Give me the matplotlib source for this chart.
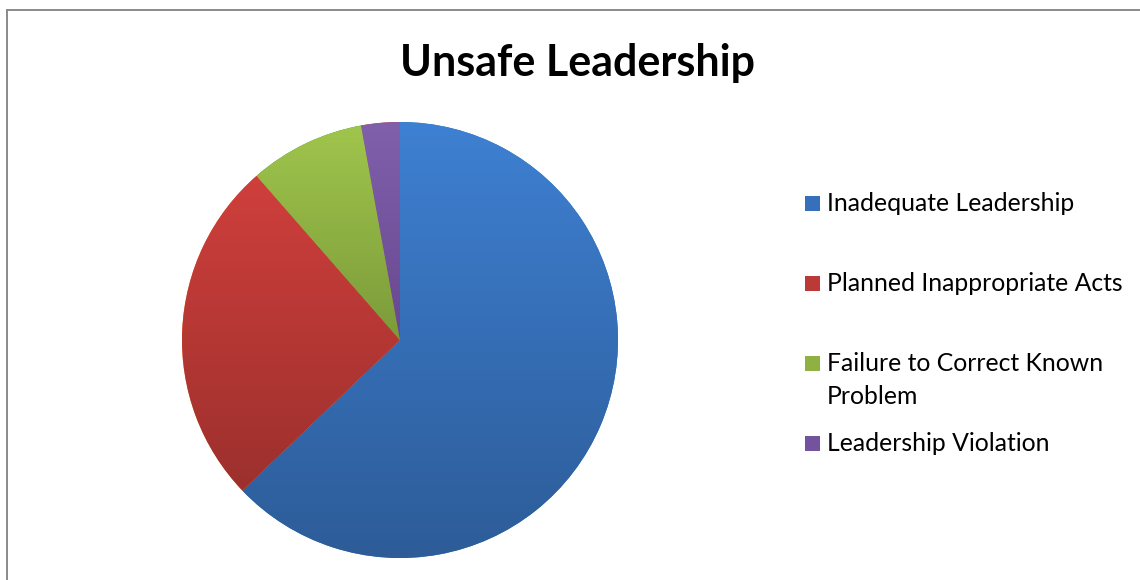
import numpy as np
import matplotlib
matplotlib.use("Agg")
import matplotlib.pyplot as plt
from matplotlib.colors import LinearSegmentedColormap
from matplotlib.patches import Rectangle
from matplotlib.lines import Line2D

title = "Unsafe Leadership"
categories = ["Inadequate Leadership", "Planned Inappropriate Acts",
              "Failure to Correct Known\nProblem", "Leadership Violation"]
values = [44, 18, 6, 2]
top_colors = ["#3e80d2", "#cf3f3c", "#a0c54c", "#8160ab"]
bottom_colors = ["#2d5c98", "#9c302d", "#7b9b3a", "#664890"]
mid_colors = ["#3670bb", "#bb3936", "#8fb043", "#74539e"]

W, H = 1140, 580
fig = plt.figure(figsize=(W / 100, H / 100), dpi=100)
fig.patch.set_facecolor("white")

cx, cy, r = 400, 340, 218
ax = fig.add_axes([(cx - r) / W, (H - cy - r) / H, 2 * r / W, 2 * r / H])
wedges, _ = ax.pie(values, startangle=90, counterclock=False, radius=1,
                   wedgeprops=dict(linewidth=0))
ax.set_xlim(-1, 1)
ax.set_ylim(-1, 1)
ax.set_aspect("equal")
ax.axis("off")

fig.canvas.draw()
for w, c0, c1 in zip(wedges, top_colors, bottom_colors):
    bb = w.get_path().get_extents(w.get_patch_transform())
    cmap = LinearSegmentedColormap.from_list("g", [c1, c0])
    grad = np.linspace(0, 1, 256).reshape(-1, 1)
    im = ax.imshow(grad, cmap=cmap, origin="lower", aspect="auto",
                   extent=[bb.x0, bb.x1, bb.y0, bb.y1], zorder=2)
    im.set_clip_path(w)
ax.set_xlim(-1, 1)
ax.set_ylim(-1, 1)

fig.text(578 / W, 1 - 63 / H, title, ha="center", va="center",
         fontsize=31, fontweight="bold", family="Lato")

# legend
y0 = 202
for i, (lab, col) in enumerate(zip(categories, mid_colors)):
    y = y0 + 80 * i
    fig.add_artist(Rectangle((805 / W, 1 - (y + 9) / H), 15 / W, 15 / H,
                             transform=fig.transFigure, facecolor=col,
                             edgecolor="none"))
    fig.text(827 / W, 1 - (y - 10) / H, lab, ha="left", va="top",
             fontsize=17.8, family="Lato", linespacing=1.55, color="#000000")

# border
fig.add_artist(Line2D([7 / W, 7 / W], [0, 1 - 9.5 / H], transform=fig.transFigure,
                      color="#8a8a8a", linewidth=1.4))
fig.add_artist(Line2D([7 / W, 1], [1 - 9.5 / H, 1 - 9.5 / H], transform=fig.transFigure,
                      color="#8a8a8a", linewidth=1.4))

fig.savefig("out.png", dpi=100, facecolor="white")
